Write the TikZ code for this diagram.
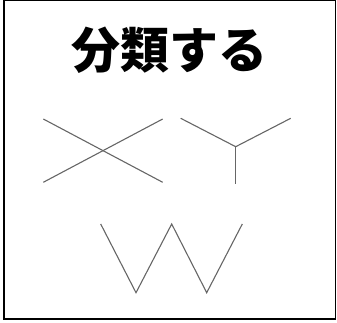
\documentclass[tikz,border=0pt]{standalone}
\usepackage{fontspec}
\newfontfamily\cjk{Noto Sans CJK JP}
\begin{document}
\begin{tikzpicture}[
      x=1pt, y=-1pt,
      frame/.style={draw=black, line width=1.2pt},
      stroke/.style={draw=black!60, line width=1.1pt, line join=miter},
      title/.style={font=\cjk\bfseries\fontsize{49}{52}\selectfont, inner sep=0pt}
    ]
      \useasboundingbox (0, 0) rectangle (337, 323);
      \draw[frame] (4, 0.6) rectangle (335.4, 319);

      \node[title] (label) at (169.5, 50) {分類する};

      % X
      \draw[stroke] (43.3, 119) -- (162.7, 182.3);
      \draw[stroke] (43.3, 182.3) -- (162.7, 119);

      % Y
      \coordinate (ymid) at (235.7, 146.7);
      \draw[stroke] (180.7, 118.3) -- (ymid) -- (290.7, 118.3);
      \draw[stroke] (ymid) -- (235.7, 184.3);

      % W
      \draw[stroke]
        (100.7, 224) -- (136, 292.7) -- (171.7, 224)
        -- (206.7, 292.7) -- (242.3, 224);
    \end{tikzpicture}
\end{document}
